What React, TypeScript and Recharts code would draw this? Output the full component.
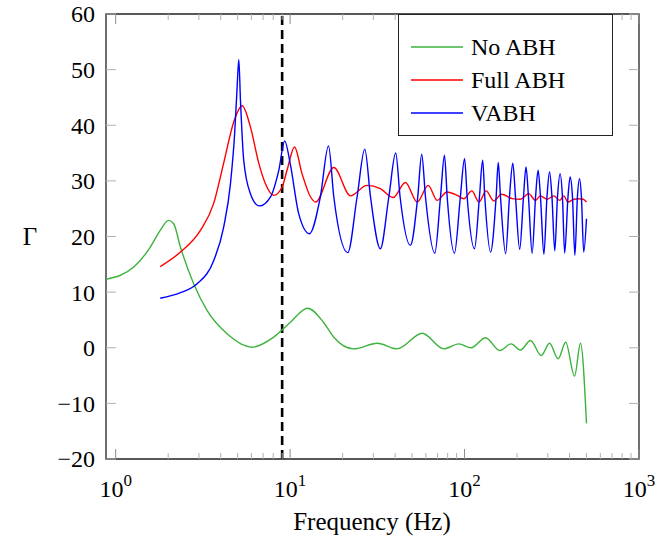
import React from "react";
import { LineChart, Line, XAxis, YAxis, ReferenceLine, ReferenceArea, Legend } from "recharts";

const noAbhFreq = [0.88, 1.27, 1.58, 1.8, 2.01, 2.15, 2.35, 2.8, 3.34, 4.35, 6.05, 8.05, 10.04, 12.6, 15.6, 17.8, 23.2, 31.6, 41.1, 57.2, 76.0, 92.7, 109, 132, 159, 185, 209, 239, 275, 307, 344, 380, 427, 462, 500];
const noAbhGamma = [12.3, 14.5, 18.1, 21.1, 22.9, 22.3, 18.1, 11.5, 6.7, 2.5, 0.1, 1.9, 4.6, 7.1, 4.5, 1.9, -0.2, 0.8, -0.2, 2.6, -0.2, 0.7, 0.0, 1.8, -0.5, 0.7, -0.4, 1.3, -1.4, 0.8, -2.0, 1.0, -5.1, 0.8, -13.6];

const fullAbhFreq = [1.8, 2.35, 3.06, 3.65, 4.16, 4.75, 5.31, 5.92, 6.61, 7.22, 8.05, 9.0, 9.6, 10.6, 11.7, 13.1, 14.0, 17.8, 22.2, 27.6, 32.9, 38.9, 45.8, 53.5, 61.9, 69.6, 79.4, 90.8, 99, 110, 121, 133, 147, 163, 188, 209, 233, 255, 272, 298, 325, 351, 371, 391, 423, 451, 479, 500];
const fullAbhGamma = [14.6, 17.2, 21.1, 26.0, 33.2, 40.6, 43.5, 39.7, 33.2, 29.5, 27.4, 28.9, 31.9, 36.1, 31.3, 27.1, 26.2, 32.4, 27.3, 29.2, 28.6, 27.0, 29.7, 26.2, 29.2, 26.5, 28.0, 27.4, 26.8, 28.2, 26.2, 28.2, 26.4, 27.6, 26.8, 26.7, 27.7, 26.5, 27.3, 26.7, 27.3, 26.5, 27.3, 26.2, 26.7, 26.8, 26.7, 26.2];

const vabhFreq = [1.8, 2.35, 2.93, 3.65, 4.16, 4.55, 4.81, 4.96, 5.08, 5.19, 5.42, 5.92, 6.66, 7.71, 8.61, 9.31, 10.0, 11.2, 12.9, 14.9, 16.6, 17.8, 21.4, 24.2, 26.8, 28.9, 32.9, 36.8, 40.3, 42.7, 48.9, 53.9, 56.8, 59.7, 67.5, 72.8, 76.7, 79.5, 87.5, 94.6, 100, 103.5, 114, 121.7, 127, 130.6, 141, 151.7, 156, 160.7, 172, 180.9, 189, 195.9, 207, 217.7, 225, 232.5, 244, 255.3, 264, 272.4, 285, 296.8, 307, 317, 329, 341, 353, 364, 375, 391.6, 403, 415.6, 429, 443.6, 456, 467.7, 482, 500];
const vabhGamma = [8.9, 9.9, 11.5, 15.7, 21.7, 29.5, 38.6, 46.4, 51.8, 44.6, 33.7, 27.7, 25.5, 27.1, 31.9, 37.2, 33.2, 24.1, 20.5, 27.1, 36.3, 27.1, 17.1, 27.1, 35.7, 27.1, 17.8, 27.1, 35.0, 27.1, 18.4, 27.1, 34.8, 27.1, 17.0, 27.1, 34.6, 27.1, 17.0, 27.1, 34.0, 27.1, 17.8, 27.1, 33.7, 27.1, 17.2, 27.1, 33.3, 27.1, 16.9, 27.1, 33.2, 27.1, 17.7, 27.1, 32.5, 27.1, 17.0, 27.1, 31.9, 27.1, 16.8, 27.1, 31.6, 27.1, 17.4, 27.1, 31.3, 27.1, 17.0, 27.1, 30.7, 27.1, 16.6, 27.1, 30.4, 27.1, 17.2, 23.2];

const xTicks = [1, 2, 3, 4, 5, 6, 7, 8, 9, 10, 20, 30, 40, 50, 60, 70, 80, 90, 100, 200, 300, 400, 500, 600, 700, 800, 900, 1000];
const yTicks = [-20, -10, 0, 10, 20, 30, 40, 50, 60];
const xDomain = [0.88, 1000];
const yDomain = [-20, 60];
const cutoffFreq = 9;
const seriesNames = ["No ABH", "Full ABH", "VABH"];
const seriesColors = ["#3cb33c", "#ff0000", "#0000ff"];

const toRows = (fs: number[], gs: number[]) => fs.map((f, i) => ({ f, g: gs[i] }));
const noAbhData = toRows(noAbhFreq, noAbhGamma);
const fullAbhData = toRows(fullAbhFreq, fullAbhGamma);
const vabhData = toRows(vabhFreq, vabhGamma);

const FONT = "Liberation Serif, Times New Roman, Nimbus Roman, DejaVu Serif, serif";
const PLOT = { left: 106, right: 639, top: 14, bottom: 459 };
const MAJOR_LEN = 10;
const MINOR_LEN = 6;
const MAJOR_COLOR = "#8a8a8a";
const MINOR_COLOR = "#b0b0b0";
const FRAME = "#222";

const isMajor = (v: number) => Math.abs(Math.log10(v) - Math.round(Math.log10(v))) < 1e-9;

const XTick = (props: any) => {
  const { x, payload } = props;
  const v = payload.value;
  const major = isMajor(v);
  const len = major ? MAJOR_LEN : MINOR_LEN;
  const col = major ? MAJOR_COLOR : MINOR_COLOR;
  return (
    <g>
      <line x1={x} x2={x} y1={PLOT.bottom} y2={PLOT.bottom - len} stroke={col} strokeWidth={1} />
      <line x1={x} x2={x} y1={PLOT.top} y2={PLOT.top + len} stroke={col} strokeWidth={1} />
      {major && (
        <text x={x} y={PLOT.bottom + 38} textAnchor="middle" fontFamily={FONT} fontSize={24} fill="#000">
          10
          <tspan dy={-11} fontSize={17}>{Math.round(Math.log10(v))}</tspan>
        </text>
      )}
    </g>
  );
};

const YTick = (props: any) => {
  const { y, payload } = props;
  const v = payload.value;
  return (
    <g>
      <line x1={PLOT.left} x2={PLOT.left + MAJOR_LEN} y1={y} y2={y} stroke={MINOR_COLOR} strokeWidth={1} />
      <line x1={PLOT.right} x2={PLOT.right - MAJOR_LEN} y1={y} y2={y} stroke={MINOR_COLOR} strokeWidth={1} />
      <text x={PLOT.left - 11} y={y} dy="0.35em" textAnchor="end" fontFamily={FONT} fontSize={24} fill="#000">
        {v < 0 ? "\u2212" + Math.abs(v) : String(v)}
      </text>
    </g>
  );
};

const renderLegend = () => (
  <div
    style={{
      width: 213,
      height: 120,
      border: "1.3px solid #222",
      background: "#fff",
      position: "relative",
      fontFamily: FONT,
      fontSize: 24,
      boxSizing: "content-box",
    }}
  >
    {seriesNames.map((name, i) => (
      <div key={name} style={{ position: "absolute", left: 0, top: 17 + i * 33, height: 30, width: 213 }}>
        <svg width={70} height={30} style={{ position: "absolute", left: 0, top: 0 }}>
          <line x1={12} x2={64} y1={15} y2={15} stroke={seriesColors[i]} strokeWidth={1.5} />
        </svg>
        <span style={{ position: "absolute", left: 72, top: 0, lineHeight: "30px", color: "#000", whiteSpace: "nowrap" }}>{name}</span>
      </div>
    ))}
  </div>
);

export default function App() {
  return (
    <div style={{ position: "absolute", left: 0, top: 0, width: 655, height: 540, background: "#fff" }}>
      <LineChart width={655} height={540} margin={{ top: PLOT.top, right: 655 - PLOT.right, bottom: 0, left: 0 }}>
        <XAxis
          dataKey="f"
          type="number"
          scale="log"
          domain={xDomain}
          allowDataOverflow
          ticks={xTicks}
          interval={0}
          tick={<XTick />}
          height={540 - PLOT.bottom}
          axisLine={false}
          tickLine={false}
          label={{
            content: () => (
              <text x={372} y={530} textAnchor="middle" fontFamily={FONT} fontSize={25} fill="#000">
                Frequency (Hz)
              </text>
            ),
          }}
        />
        <YAxis
          type="number"
          domain={yDomain}
          allowDataOverflow
          ticks={yTicks}
          interval={0}
          tick={<YTick />}
          width={PLOT.left}
          axisLine={false}
          tickLine={false}
          label={{
            content: () => (
              <text x={30} y={245} textAnchor="middle" fontFamily={FONT} fontSize={25} fill="#000">
                Γ
              </text>
            ),
          }}
        />
        <ReferenceArea x1={xDomain[0]} x2={xDomain[1]} y1={yDomain[0]} y2={yDomain[1]} fill="none" stroke={FRAME} strokeWidth={1.3} fillOpacity={0} />
        <ReferenceLine x={cutoffFreq} stroke="#000" strokeWidth={2.6} strokeDasharray="9 5" />
        <Line data={noAbhData} dataKey="g" name={seriesNames[0]} type="monotone" stroke={seriesColors[0]} strokeWidth={1.4} dot={false} isAnimationActive={false} />
        <Line data={fullAbhData} dataKey="g" name={seriesNames[1]} type="monotone" stroke={seriesColors[1]} strokeWidth={1.4} dot={false} isAnimationActive={false} />
        <Line data={vabhData} dataKey="g" name={seriesNames[2]} type="monotone" stroke={seriesColors[2]} strokeWidth={1.4} dot={false} isAnimationActive={false} />
        <Legend
          layout="vertical"
          align="center"
          verticalAlign="middle"
          content={renderLegend}
          wrapperStyle={{ position: "absolute", left: 398, top: 14, width: 216, height: 123 }}
        />
      </LineChart>
    </div>
  );
}
